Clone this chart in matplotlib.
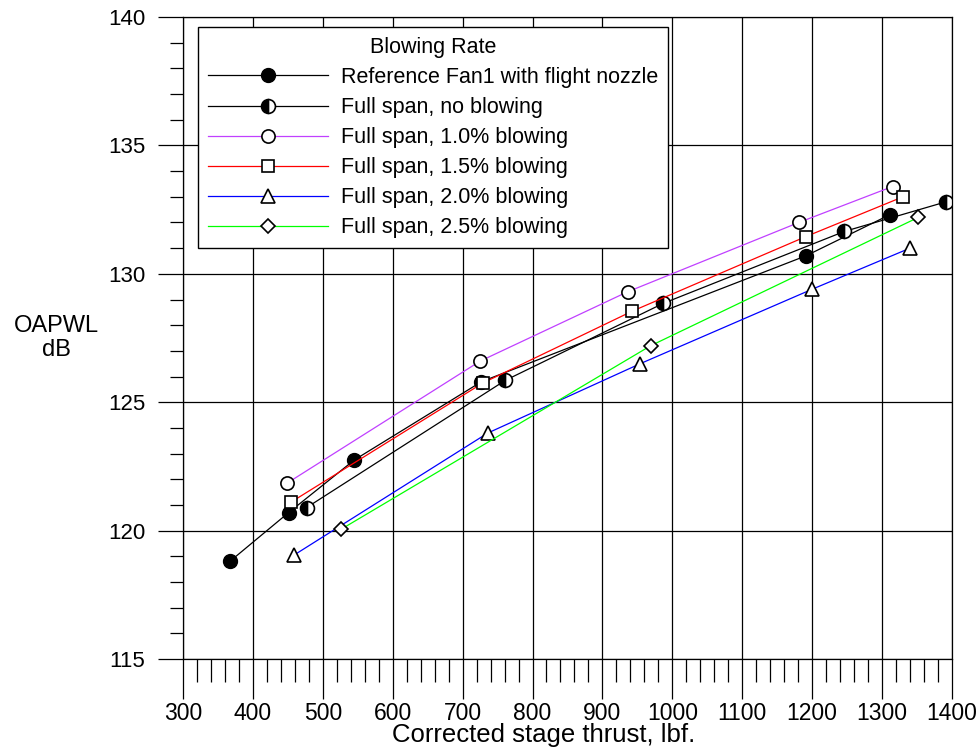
import numpy as np
import matplotlib
matplotlib.use('Agg')
import matplotlib.pyplot as plt
from matplotlib.ticker import MultipleLocator

plt.rcParams['font.family'] = ['Liberation Sans', 'DejaVu Sans']

# thrust (lbf) and OAPWL (dB)
ref_x = [367, 451, 545, 727, 1191, 1311]
ref_y = [118.8, 120.7, 122.75, 125.8, 130.7, 132.3]

nob_x = [477, 761, 987, 1246, 1391]
nob_y = [120.9, 125.85, 128.85, 131.65, 132.8]

b10_x = [449, 725, 936, 1181, 1315]
b10_y = [121.85, 126.6, 129.3, 132.0, 133.4]

b15_x = [454, 729, 943, 1191, 1330]
b15_y = [121.1, 125.75, 128.55, 131.45, 133.0]

b20_x = [459, 736, 954, 1200, 1340]
b20_y = [119.05, 123.8, 126.5, 129.4, 131.0]

b25_x = [526, 969, 1352]
b25_y = [120.05, 127.2, 132.2]

labels = ['Reference Fan1 with flight nozzle', 'Full span, no blowing',
          'Full span, 1.0% blowing', 'Full span, 1.5% blowing',
          'Full span, 2.0% blowing', 'Full span, 2.5% blowing']

narrow = ['Liberation Sans Narrow', 'Liberation Sans', 'DejaVu Sans']

fig = plt.figure(figsize=(9.8, 7.5), dpi=100)
ax = fig.add_axes([0.1867, 0.1213, 0.7847, 0.856])

lw = 0.9
ax.plot(ref_x, ref_y, '-', color='black', lw=lw, marker='o', ms=10,
        mfc='black', mec='black', label=labels[0])
ax.plot(nob_x, nob_y, '-', color='black', lw=lw, marker='o', ms=10,
        fillstyle='left', mfc='black', mfcalt='white', mec='black',
        mew=1.2, label=labels[1])
ax.plot(b10_x, b10_y, '-', color='#c040ff', lw=lw, marker='o', ms=9.5,
        mfc='white', mec='black', mew=1.2, label=labels[2])
ax.plot(b15_x, b15_y, '-', color='red', lw=lw, marker='s', ms=9,
        mfc='white', mec='black', mew=1.2, label=labels[3])
ax.plot(b20_x, b20_y, '-', color='blue', lw=lw, marker='^', ms=9.5,
        mfc='white', mec='black', mew=1.2, label=labels[4])
ax.plot(b25_x, b25_y, '-', color='#00ff00', lw=lw, marker='D', ms=7,
        mfc='white', mec='black', mew=1.2, label=labels[5])

ax.set_xlim(300, 1400)
ax.set_ylim(115, 140)
ax.xaxis.set_major_locator(MultipleLocator(100))
ax.xaxis.set_minor_locator(MultipleLocator(20))
ax.yaxis.set_major_locator(MultipleLocator(5))
ax.yaxis.set_minor_locator(MultipleLocator(1))
ax.grid(True, which='major', color='black', lw=0.9)
ax.tick_params(axis='x', which='major', direction='out', length=29,
               width=0.9, pad=2)
ax.tick_params(axis='x', which='minor', direction='out', length=16.5,
               width=0.9)
ax.tick_params(axis='y', which='major', direction='out', length=18,
               width=0.9, labelsize=16, pad=9)
ax.tick_params(axis='y', which='minor', direction='out', length=9.4,
               width=0.9)
for lab in ax.get_xticklabels():
    lab.set_family(narrow)
    lab.set_fontsize(16.5)
for s in ax.spines.values():
    s.set_linewidth(0.9)

ax.set_xlabel('Corrected stage thrust, lbf.', fontsize=18.5)
ax.xaxis.set_label_coords(0.469, -0.1)
ax.set_ylabel('OAPWL\ndB', fontsize=17, rotation=0, ha='center', va='center',
              linespacing=1.15)
ax.yaxis.set_label_coords(-0.164, 0.5)

leg = ax.legend(loc='upper left', bbox_to_anchor=(0.0195, 0.984),
                borderaxespad=0, fontsize=15.5, title='Blowing Rate',
                title_fontsize=15.5, fancybox=False, framealpha=1,
                edgecolor='black', handlelength=5.6, handletextpad=0.6,
                labelspacing=0.42, borderpad=0.45)
leg.get_frame().set_linewidth(1.0)

fig.savefig('out.png', dpi=100)
